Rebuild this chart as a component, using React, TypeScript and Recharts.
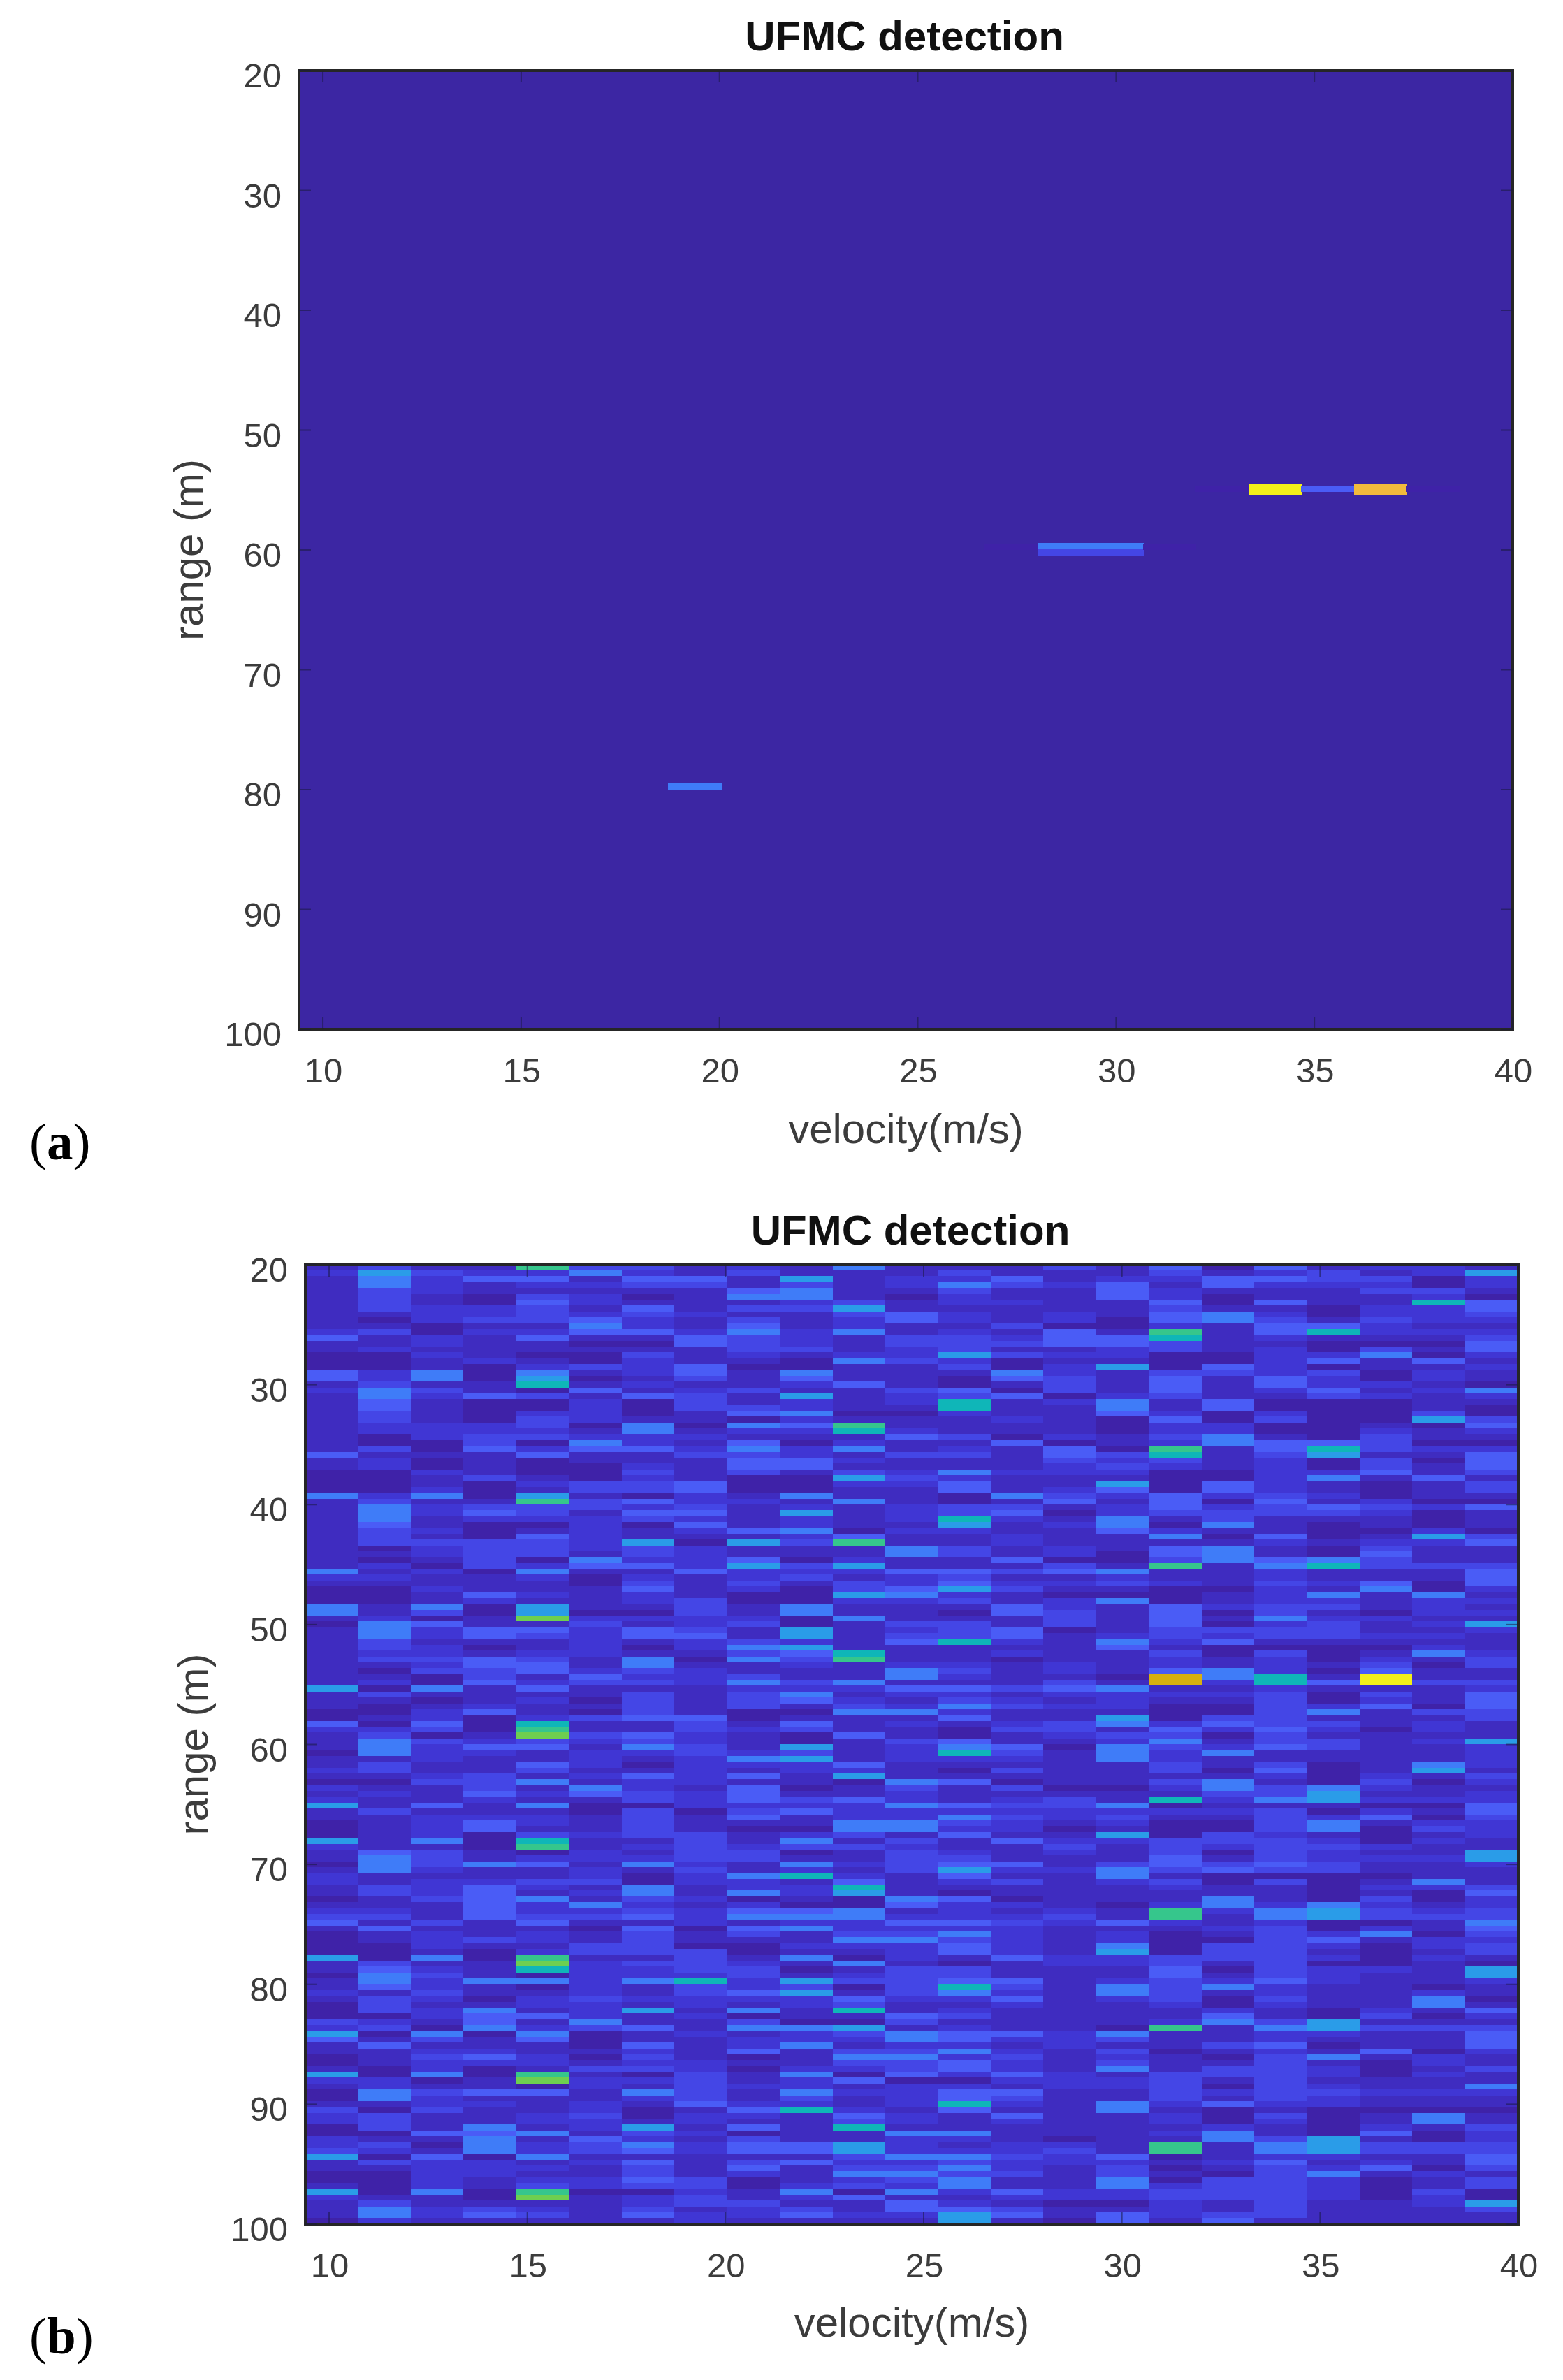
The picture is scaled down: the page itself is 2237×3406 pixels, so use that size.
import React from "react";
import { ScatterChart, Scatter, XAxis, YAxis, ReferenceArea } from "recharts";

const TITLE = "UFMC detection";
const X_LABEL = "velocity(m/s)";
const Y_LABEL = "range (m)";
const xTicks = [10, 15, 20, 25, 30, 35, 40];
const yTicks = [20, 30, 40, 50, 60, 70, 80, 90, 100];
const X_MIN = 9.4;
const RANGE_BINS = 164;

const velocityBins = [
  10.07, 11.4, 12.73, 14.06, 15.39, 16.72, 18.05, 19.38, 20.71, 22.04, 23.37, 24.7,
  26.03, 27.36, 28.69, 30.02, 31.35, 32.68, 34.01, 35.34, 36.67, 38.0, 39.33,
];

// colour level per cell, hex digit: 0 = darkest ... B = yellow, C = orange
const levelColors = [
  "#3f22a8", "#3f2cc0", "#4036d4", "#4446e6", "#4a5cf6", "#3f7cf8",
  "#2a9ce8", "#0fb6b8", "#36c68c", "#6ecf50", "#d8b010", "#f4f018", "#f2ba3c",
];

// panel (a): [velocity bin, range bin, level]
const detectionA: number[][] = [
  [18, 70.8, 11], [18, 71.6, 11], [19, 71, 4], [20, 70.8, 12], [20, 71.6, 12],
  [17, 71, 0], [21, 71, 0], [14, 80.8, 5], [15, 80.8, 5], [14, 81.9, 3], [15, 81.9, 3],
  [13, 81, 0], [16, 81, 0], [7, 122, 5],
];

// panel (b): one string per range bin, one digit per velocity bin
const detectionB = [
  "13118331215111314041221","26322521311131113123126","15244144161224122443302","15212233131253241422202",
  "13211111451131142111331","13103201551021142011120","13104211123122114041174","13223141336111113110224",
  "11223232113421214520223","10233421312421204531322","11011521412113002144211","23022442525121418147222",
  "41214114321332447121113","11211004321333443110004","12111111331231123120314","00210031212263220022502",
  "00121021105320110024141","00102324001130260420112","42505124151115213323021","42506013141104314142021",
  "13117121124101314142210","25310412311340314124125","15243143161234023113212","14100203121271251400011",
  "14100203321171151400010","13102201450021142020030","13103211021112104030063","12223050548111102200104",
  "12222151227211102200212","10233222111430213510311","10030521402114012544300","13042442525121408147322",
  "41114113321331437136114","12010111442111323120304","12010021441111232120314","00210031313252220022413",
  "00131021006321110025141","00102334002241160421013","00201334001141240421013","52506102151105324232011",
  "13118342215101414041200",
  "15233323121233124234324","15243144161234023333201","15122232121272151311101","14100204121161250510101",
  "13201212450221142110020","13104211124112115040163","13333260638112111121224","10233232111531214510311",
  "11233132111531204510411","10130522402114003545311","12032442636111318157333","51205114222443451121114",
  "22112021231231121121114","11111031313242232132404","00211141203463110021502","00142121006521000125151",
  "00121123002231250122122","51506113151114214233121","51306003151104314031022","12019222205111314152211",
  "05411312301331314023126","15244243161234013333112","15243244161334123233221","13111212321472152411111",
  "13201202561111141000021","12212211347112113030152","13343150538110112120213","11244151121221212121303",
  "10334232111531214520411","1103142231152110A571B11","1204233253511131A274B33","60514111222443451121112",
  "13111131351221222230314","11012031342132121130214","10121131313253220032404","00241031005521110035133",
  "01202344011141160331113","40407113141212352433121","22308113231103314242021","13019342104101233031111",
  "15323232101341125133126",
  "15244153161254053243112","05221223231273152511112","11211212561222152111112","13114202224111113130152",
  "23113112122103113040161","11231242416111111120213","00335122110540113510302","21131521401313002535211",
  "12142432411211111336112","21121132434212317256222","61415002222543350111004","13111030342222222230214",
  "11222131412253231132403","01242131115532120035122","01241131005522010035032","01203233123141160321012",
  "61507113151314223332021","21108123233211313233211","14310213301321213032116","15312223311331114132226",
  "05354152152344134343112","15211213121362253433111","21111202572141151000011","21223302214123123030151",
  "13242151227111112110223","13241251526101111110104","01345132010540111510302","11142521200422102525212",
  "22142232445121218256323","33143342555222318156333","41314112122443242120015","14111040452222111230214",
  "01212131313352120132503","01232131115532120034122","00211330022242150332023","00102333011242160331013",
  "60508113150214223332021","13119233215101223130010","14217223301331114032216","05310222312331114132116",
  "15255257263344123242112",
  "14210213230373153521101","21311213461352153121121","13202322224224123031150","03112212123112112021151",
  "03251261517121111210214","00244212011431111410302","32141511300311112536111","23052341556121108156333",
  "60505012123544251122114","41314011222542231121114","14111041251221211340114","11221121413352130121402",
  "01342031015523121035121","01222122113342131131021","10201332022342151332013","60508103150424213332021",
  "22019223124002223131111","12110213221221223032115","05344153152244113233222","05211123131243113132111",
  "11221214221272152422111","30311201472141151010000","23112302214214112030151","23112212113212112020151",
  "03151261417111111210213","00445132011551112510402","21151421311221011536102","23052352446212218156333",
  "32152342446222318156333","60405111113553240122114","13221241342232221241214","11222131413352130132403",
  "00221131215533131035121","00212243012351150332013","10213233023251152332013","60508002150524223332030",
  "21109123124112223332020","13111123311421002131126","15232131231443112131113","15243142242264142331111",
  "02111112111161041411111",
];

type Cell = { v: number; r: number; level: number };
const rangeOf = (row: number) => 20 + ((row + 0.5) * 80) / RANGE_BINS;
const cellsA: Cell[] = detectionA.map(([c, row, level]) => ({ v: velocityBins[c], r: rangeOf(row), level }));
const cellsB: Cell[] = detectionB.flatMap((s, row) =>
  velocityBins.map((v, c) => ({ v, r: rangeOf(row), level: parseInt(s[c] ?? "1", 16) }))
);

const SANS = "'Liberation Sans', Arial, sans-serif";
const INK = "#3c3c3c";
const FRAME = "#262626";
const W = 2237;

type PanelProps = {
  height: number; top: number; plotLeft: number; plotRight: number; plotTop: number; plotBottom: number;
  cells: Cell[]; base?: string; tag: string; tagY: number; labelY: number; yLabelX: number;
};

function Panel(p: PanelProps) {
  const plotW = p.plotRight - p.plotLeft;
  const plotH = p.plotBottom - p.plotTop;
  const cellW = (plotW / (40 - X_MIN)) * 1.3304 + 0.6;
  const cellH = plotH / RANGE_BINS + 0.6;
  const shape = (s: any) => (
    <rect
      x={s.cx - cellW / 2}
      y={s.cy - cellH / 2}
      width={cellW}
      height={cellH}
      fill={levelColors[s.payload.level]}
      shapeRendering="crispEdges"
    />
  );
  const xTick = (t: any) => (
    <g>
      <line x1={t.x} x2={t.x} y1={p.plotBottom} y2={p.plotBottom - 17} stroke="#1a1a40" strokeOpacity={0.55} strokeWidth={2} />
      <line x1={t.x} x2={t.x} y1={p.plotTop} y2={p.plotTop + 17} stroke="#1a1a40" strokeOpacity={0.55} strokeWidth={2} />
      <text x={t.x + 1} y={p.plotBottom + 59} textAnchor="middle" dominantBaseline="central" fontFamily={SANS} fontSize={49} fill={INK}>
        {t.payload.value}
      </text>
    </g>
  );
  const yTick = (t: any) => (
    <g>
      <line x1={p.plotLeft} x2={p.plotLeft + 17} y1={t.y} y2={t.y} stroke="#1a1a40" strokeOpacity={0.55} strokeWidth={2} />
      <line x1={p.plotRight} x2={p.plotRight - 17} y1={t.y} y2={t.y} stroke="#1a1a40" strokeOpacity={0.55} strokeWidth={2} />
      <text x={p.plotLeft - 25} y={t.y + 7} textAnchor="end" dominantBaseline="central" fontFamily={SANS} fontSize={49} fill={INK}>
        {t.payload.value}
      </text>
    </g>
  );
  const cx = (p.plotLeft + p.plotRight) / 2;
  const cy = (p.plotTop + p.plotBottom) / 2;
  return (
    <div style={{ position: "absolute", left: 0, top: p.top, width: W, height: p.height }}>
      <ScatterChart
        width={W}
        height={p.height}
        margin={{ top: p.plotTop, right: W - p.plotRight, bottom: 0, left: 0 }}
      >
        <XAxis
          type="number"
          dataKey="v"
          domain={[X_MIN, 40]}
          ticks={xTicks}
          allowDataOverflow
          axisLine={false}
          tickLine={false}
          tickSize={0}
          height={p.height - p.plotBottom}
          tick={xTick}
          interval={0}
        />
        <YAxis
          type="number"
          dataKey="r"
          domain={[20, 100]}
          ticks={yTicks}
          reversed
          allowDataOverflow
          axisLine={false}
          tickLine={false}
          tickSize={0}
          width={p.plotLeft}
          tick={yTick}
          interval={0}
        />
        {p.base ? <ReferenceArea x1={X_MIN} x2={40} y1={20} y2={100} fill={p.base} fillOpacity={1} stroke="none" /> : null}
        <Scatter data={p.cells} shape={shape} isAnimationActive={false} />
        <ReferenceArea x1={X_MIN} x2={40} y1={20} y2={100} fill="none" stroke={FRAME} strokeWidth={4} zIndex={1000} />
        <text x={cx - 2} y={p.plotTop - 50} textAnchor="middle" dominantBaseline="central" fontFamily={SANS} fontSize={60} fontWeight="bold" fill="#111">
          {TITLE}
        </text>
        <text x={cx} y={p.labelY} textAnchor="middle" dominantBaseline="central" fontFamily={SANS} fontSize={60} fill={INK}>
          {X_LABEL}
        </text>
        <text
          x={p.yLabelX}
          y={cy}
          textAnchor="middle"
          dominantBaseline="central"
          fontFamily={SANS}
          fontSize={60}
          fill={INK}
          transform={`rotate(-90 ${p.yLabelX} ${cy})`}
        >
          {Y_LABEL}
        </text>
        <text x={42} y={p.tagY} fontFamily="'Liberation Serif', serif" fontSize={75} fill="#000">
          (<tspan fontWeight="bold">{p.tag}</tspan>)
        </text>
      </ScatterChart>
    </div>
  );
}

export default function App() {
  return (
    <div style={{ position: "absolute", left: 0, top: 0, width: W, height: 3406, background: "#fff", overflow: "hidden" }}>
      <Panel height={1700} top={0} plotLeft={428} plotRight={2165} plotTop={101} plotBottom={1473}
        cells={cellsA} base="#3c26a3" tag="a" tagY={1659} labelY={1615} yLabelX={269} />
      <Panel height={1706} top={1700} plotLeft={437} plotRight={2173} plotTop={110} plotBottom={1483}
        cells={cellsB} tag="b" tagY={1668} labelY={1623} yLabelX={276} />
    </div>
  );
}
